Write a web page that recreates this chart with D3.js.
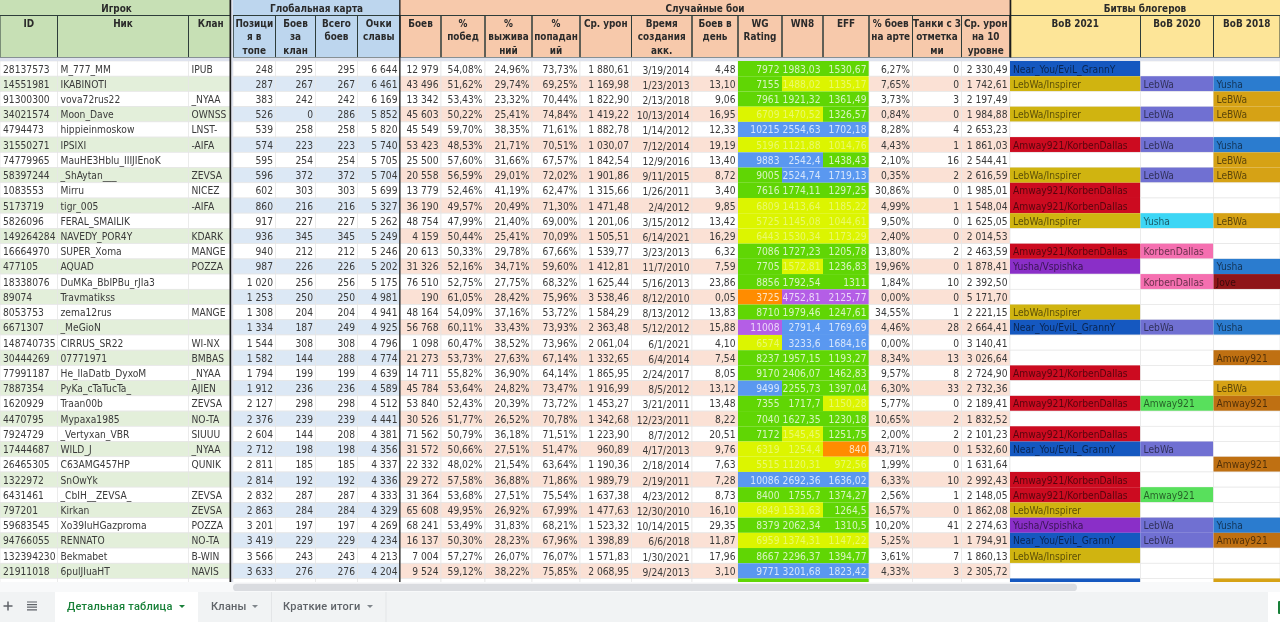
<!DOCTYPE html>
<html>
<head>
<meta charset="utf-8">
<script src="https://cdn.jsdelivr.net/npm/d3@7"></script>
<style>
  html, body { margin: 0; padding: 0; background: #fff; overflow: hidden; }
  svg { display: block; filter: blur(0.4px); font-family: "DejaVu Sans", sans-serif; font-stretch: condensed; }
</style>
</head>
<body>
<svg id="sheet" width="1280" height="622"></svg>
<script>
// player columns, last row is the one cut off by the scrollbar
const ids = [28137573,14551981,91300300,34021574,4794473,31550271,74779965,58397244,1083553,5173719,5826096,149264284,16664970,477105,18338076,89074,8053753,6671307,148740735,30444269,77991187,7887354,1620929,4470795,7924729,17444687,26465305,1322972,6431461,797201,59683545,94766055,132394230,21911018,""];
const nicks = ["M_777_MM","IKABINOTI","vova72rus22","Moon_Dave","hippieinmoskow","IPSIXI","MauHE3Hblu_IIIJIEnoK","_ShAytan___","Mirru","tigr_005","FERAL_SMAILIK","NAVEDY_POR4Y","SUPER_Xoma","AQUAD","DuMKa_BbIPBu_rJIa3","Travmatikss","zema12rus","_MeGioN","CIRRUS_SR22","07771971","He_IlaDatb_DyxoM","PyKa_cTaTucTa_","Traan00b","Mypaxa1985","_Vertyxan_VBR","WILD_J","C63AMG457HP","SnOwYk","_CbIH__ZEVSA_","Kirkan","Xo39IuHGazproma","RENNATO","Bekmabet","6pulJIuaHT",""];
const clans = ["IPUB","","_NYAA","OWNSS","LNST-","-AIFA","","ZEVSA","NICEZ","-AIFA","","KDARK","MANGE","POZZA","","","MANGE","","WI-NX","BMBAS","_NYAA","AJIEN","ZEVSA","NO-TA","SIUUU","_NYAA","QUNIK","","ZEVSA","ZEVSA","POZZA","NO-TA","B-WIN","NAVIS",""];

// global map
const positions = [248,287,383,526,539,574,595,596,602,860,917,936,940,987,1020,1253,1308,1334,1544,1582,1794,1912,2127,2376,2604,2712,2811,2814,2832,2863,3201,3419,3566,3633,null];
const clanBattles = [295,267,242,0,258,223,254,372,303,216,227,345,212,226,256,250,204,187,308,144,199,236,298,239,144,198,185,192,287,284,197,229,243,276,null];
const totalBattles = [295,267,242,286,258,223,254,372,303,216,227,345,212,226,256,250,204,249,308,288,199,236,298,239,208,198,185,192,287,284,197,229,243,276,null];
const famePoints = [6644,6461,6169,5852,5820,5740,5705,5704,5699,5327,5262,5249,5246,5202,5175,4981,4941,4925,4796,4774,4639,4589,4512,4441,4381,4356,4337,4336,4333,4329,4269,4234,4213,4204,null];

// random battles
const battles = [12979,43496,13342,45603,45549,53423,25500,20558,13779,36190,48754,4159,20613,31326,76510,190,48164,56768,1098,21273,14711,45784,53840,30526,71562,31572,22332,29272,31364,65608,68241,16137,7004,9524,null];
const winRate = [54.08,51.62,53.43,50.22,59.70,48.53,57.60,56.59,52.46,49.57,47.99,50.44,50.33,52.16,52.75,61.05,54.09,60.11,60.47,53.73,55.82,53.64,52.43,51.77,50.79,50.66,48.02,57.58,53.68,49.95,53.49,50.30,57.27,59.12,null];
const survival = [24.96,29.74,23.32,25.41,38.35,21.71,31.66,29.01,41.19,20.49,21.40,25.41,29.78,34.71,27.75,28.42,37.16,33.43,38.52,27.63,36.90,24.82,20.39,26.52,36.18,27.51,21.54,36.88,27.51,26.92,31.83,28.23,26.07,38.22,null];
const hitRate = [73.73,69.25,70.44,74.84,71.61,70.51,67.57,72.02,62.47,71.30,69.00,70.09,67.66,59.60,68.32,75.96,53.72,73.93,73.96,67.14,64.14,73.47,73.72,70.78,71.51,51.47,63.64,71.86,75.54,67.99,68.21,67.96,76.07,75.85,null];
const avgDamage = [1880.61,1169.98,1822.90,1419.22,1882.78,1030.07,1842.54,1901.86,1315.66,1471.48,1201.06,1505.51,1539.77,1412.81,1625.44,3538.46,1584.29,2363.48,2061.04,1332.65,1865.95,1916.99,1453.27,1342.68,1223.90,960.89,1190.36,1989.79,1637.38,1477.63,1523.32,1398.89,1571.83,2068.95,null];
const created = ["3/19/2014","1/23/2013","2/13/2018","10/13/2014","1/14/2012","7/12/2014","12/9/2016","9/11/2015","1/26/2011","2/4/2012","3/15/2012","6/14/2021","3/23/2013","11/7/2010","5/16/2013","8/12/2010","8/13/2012","5/12/2012","6/1/2021","6/4/2014","2/24/2017","8/5/2012","3/21/2011","12/23/2011","8/7/2012","4/17/2013","2/18/2014","2/19/2011","4/23/2012","12/30/2010","10/14/2015","6/6/2018","1/30/2021","9/24/2013",""];
const perDay = [4.48,13.10,9.06,16.95,12.33,19.19,13.40,8.72,3.40,9.85,13.42,16.29,6.32,7.59,23.86,0.05,13.83,15.88,4.10,7.54,8.05,13.12,13.48,8.22,20.51,9.76,7.63,7.28,8.73,16.10,29.35,11.87,17.96,3.10,null];
// the cut-off row only shows its cell colour, its numbers are a guess
const wgRating = [7972,7155,7961,6709,10215,5196,9883,9005,7616,6809,5725,6443,7086,7705,8856,3725,8710,11008,6574,8237,9170,9499,7355,7040,7172,6319,5515,10086,8400,6849,8379,6959,8667,9771,8000];
const wn8 = [1983.03,1488.02,1921.32,1470.52,2554.63,1121.88,2542.4,2524.74,1774.11,1413.64,1145.08,1530.34,1727.23,1572.81,1792.54,4752.81,1979.46,2791.4,3233.6,1957.15,2406.07,2255.73,1717.7,1627.35,1545.45,1254.4,1120.31,2692.36,1755.7,1531.63,2062.34,1374.31,2296.37,3201.68,1800];
const eff = [1530.67,1135.17,1361.49,1326.57,1702.18,1014.76,1438.43,1719.13,1297.25,1185.22,1044.61,1173.29,1205.78,1236.83,1311,2125.77,1247.61,1769.69,1684.16,1193.27,1462.83,1397.04,1150.28,1230.18,1251.75,840,972.56,1636.02,1374.27,1264.5,1310.5,1147.22,1394.77,1823.42,1300];
const artyShare = [6.27,7.65,3.73,0.84,8.28,4.43,2.10,0.35,30.86,4.99,9.50,2.40,13.80,19.96,1.84,0.00,34.55,4.46,0.00,8.34,9.57,6.30,5.77,10.65,2.00,43.71,1.99,6.33,2.56,16.57,10.20,5.25,3.61,4.33,null];
const threeMarks = [0,0,3,0,4,1,16,2,0,1,0,0,2,0,10,0,1,28,0,13,8,33,0,2,2,0,0,10,1,0,41,1,7,3,null];
const damageTier10 = [2330.49,1742.61,2197.49,1984.88,2653.23,1861.03,2544.41,2616.59,1985.01,1548.04,1625.05,2014.53,2463.59,1878.41,2392.50,5171.70,2221.15,2664.41,3140.41,3026.64,2724.90,2732.36,2189.41,1832.52,2101.23,1532.60,1631.64,2992.43,2148.05,1862.08,2274.63,1794.91,1860.13,2305.72,null];

// blogger battles
const near = "Near_You/EviL_GrannY", leb = "LebWa/Inspirer", amw = "Amway921/KorbenDallas", yv = "Yusha/Vspishka";
const bob2021 = [near,leb,"",leb,"",amw,"",leb,amw,amw,leb,"",amw,yv,"","",leb,near,"","",amw,"",amw,"",amw,near,"",amw,amw,leb,yv,near,leb,"",near];
const bob2020 = ["","LebWa","","LebWa","","LebWa","","LebWa","","","Yusha","","KorbenDallas","","KorbenDallas","","","LebWa","","","","","Amway921","","","LebWa","","","Amway921","","LebWa","LebWa","","",""];
const bob2018 = ["","Yusha","LeBWa","LeBWa","","Yusha","LeBWa","LeBWa","","","LeBWa","","","Yusha","Jove","","","Yusha","","Amway921","","LeBWa","Amway921","","","","Amway921","","","","Yusha","Amway921","","","LeBWa"];

const columnKeys = ["id","nick","clan","pos","clanB","totalB","fame","battles","win","surv","hit","dmg","created","perDay","wg","wn8","eff","arty","marks","dmg10","b21","b20","b18","end"];
const columnEdges = [0,57.5,188.5,233,275.5,315.5,357.5,400,441,485,532,580,631.5,692,738,782,823,869,912.5,961.5,1010,1140.5,1213.5,1280];
const groupTitles = ["Игрок","Глобальная карта","Случайные бои","Битвы блогеров"];
const groupSpans = [["id","pos"],["pos","battles"],["battles","b21"],["b21","end"]];
const groupFills = ["#c7e0b5","#bdd6ee","#f7c9ab","#fde598"];
const stripeFills = ["#e3efda","#dce8f5","#fbe1d5","#fff"];
const headerLines = {
  id:["ID"], nick:["Ник"], clan:["Клан"], pos:["Позици","я в","топе"], clanB:["Боев","за","клан"],
  totalB:["Всего","боев"], fame:["Очки","славы"], battles:["Боев"], win:["%","побед"], surv:["%","выжива","ний"],
  hit:["%","попадан","ий"], dmg:["Ср. урон"], created:["Время","создания","акк."], perDay:["Боев в","день"],
  wg:["WG","Rating"], wn8:["WN8"], eff:["EFF"], arty:["% боев","на арте"], marks:["Танки с 3","отметка","ми"],
  dmg10:["Ср. урон","на 10","уровне"], b21:["BoB 2021"], b20:["BoB 2020"], b18:["BoB 2018"]
};

const ratingColors = ["#ff8c00","#dcf500","#60d604","#5a98f0","#b45ee6"];
const wgColor = d3.scaleThreshold([5000,7000,9400,11000], ratingColors);
const wn8Color = d3.scaleThreshold([1000,1600,2500,4000], ratingColors);
const effColor = d3.scaleThreshold([900,1190,1600,2000], ratingColors);
const bobColor = d3.scaleOrdinal(
  ["2021"+near,"2021"+leb,"2021"+amw,"2021"+yv,"2020LebWa","2020Yusha","2020KorbenDallas","2020Amway921","2018Yusha","2018LeBWa","2018Amway921","2018Jove"],
  ["#1558c0","#d0b410","#cc0b20","#8a2fc8","#7070d2","#3dd6f5","#f56fb0","#58e05c","#2b7ccf","#d6a215","#bf7012","#8f1518"]);

const ruLocale = d3.formatLocale({decimal:",", thousands:" ", grouping:[3], currency:["",""]});
const fmtInt = ruLocale.format(",d");
const fmtDec = ruLocale.format(",.2f");
const fmtPlain = ruLocale.format(".2f");
const orBlank = f => v => v === null ? "" : f(v);
const fmtPct = orBlank(v => fmtPlain(v) + "%");
const fmtRating = v => String(v).replace(".", ",");

const x = d3.scaleOrdinal(columnKeys, columnEdges);
const y = d3.scaleBand(d3.range(ids.length), [61, 61 + 15.22 * ids.length]);
const colEnd = k => x(columnKeys[columnKeys.indexOf(k) + 1]);

// group: which stripe colour the column takes, rating: coloured cell
const columns = [
  {key:"id", values:ids, f:String, group:0},
  {key:"nick", values:nicks, f:String, group:0},
  {key:"clan", values:clans, f:String, group:0},
  {key:"pos", values:positions, f:orBlank(fmtInt), group:1, right:true},
  {key:"clanB", values:clanBattles, f:orBlank(fmtInt), group:1, right:true},
  {key:"totalB", values:totalBattles, f:orBlank(fmtInt), group:1, right:true},
  {key:"fame", values:famePoints, f:orBlank(fmtInt), group:1, right:true},
  {key:"battles", values:battles, f:orBlank(fmtInt), group:2, right:true},
  {key:"win", values:winRate, f:fmtPct, group:2, right:true},
  {key:"surv", values:survival, f:fmtPct, group:2, right:true},
  {key:"hit", values:hitRate, f:fmtPct, group:2, right:true},
  {key:"dmg", values:avgDamage, f:orBlank(fmtDec), group:2, right:true},
  {key:"created", values:created, f:String, group:2, right:true, dy:1},
  {key:"perDay", values:perDay, f:orBlank(fmtPlain), group:2, right:true},
  {key:"wg", values:wgRating, f:fmtRating, color:wgColor, right:true},
  {key:"wn8", values:wn8, f:fmtRating, color:wn8Color, right:true},
  {key:"eff", values:eff, f:fmtRating, color:effColor, right:true},
  {key:"arty", values:artyShare, f:fmtPct, group:2, right:true},
  {key:"marks", values:threeMarks, f:orBlank(fmtInt), group:2, right:true},
  {key:"dmg10", values:damageTier10, f:orBlank(fmtDec), group:2, right:true},
  {key:"b21", values:bob2021, f:String, group:3, bob:"2021"},
  {key:"b20", values:bob2020, f:String, group:3, bob:"2020"},
  {key:"b18", values:bob2018, f:String, group:3, bob:"2018"}
];

const svg = d3.select("#sheet");
svg.append("defs").append("clipPath").attr("id", "rowsClip")
  .append("rect").attr("x", 0).attr("y", 58).attr("width", 1280).attr("height", 524);

// body cells
const body = svg.append("g").attr("clip-path", "url(#rowsClip)");
const cells = columns.flatMap(c => c.values.map((v, i) => ({c, v, i})));

function cellFill(d) {
  if (d.c.color) return d.c.color(d.v);
  if (d.c.bob && d.v) return bobColor(d.c.bob + d.v);
  return d.i % 2 ? stripeFills[d.c.group] : "#fff";
}

body.selectAll("rect.cell").data(cells).join("rect")
  .attr("class", "cell")
  .attr("x", d => x(d.c.key))
  .attr("y", d => y(d.i))
  .attr("width", d => colEnd(d.c.key) - x(d.c.key))
  .attr("height", y.bandwidth())
  .attr("fill", cellFill)
  .attr("stroke", d => d.c.color || (d.c.bob && d.v) ? "none" : "#e6e6e6")
  .attr("stroke-width", 0.7);

body.selectAll("text.cell").data(cells.filter(d => d.i < 34)).join("text")
  .attr("class", "cell")
  .attr("x", d => d.c.right ? colEnd(d.c.key) - 2.5 : x(d.c.key) + 3)
  .attr("y", d => y(d.i) + y.bandwidth() / 2 + 0.4 + (d.c.dy || 0))
  .attr("dy", "0.35em")
  .attr("text-anchor", d => d.c.right ? "end" : "start")
  .attr("font-size", 10.2)
  .attr("fill", d => d.c.color ? "#fff" : d.c.bob && d.v ? "#000" : "#3a3a3a")
  .attr("fill-opacity", d => d.c.color ? (d.c.color(d.v) === ratingColors[1] ? 0.42 : 0.75) : d.c.bob && d.v ? 0.58 : 1)
  .text(d => d.c.f(d.v));

// header groups
const head = svg.append("g");
head.selectAll("rect.group").data(groupTitles).join("rect")
  .attr("class", "group")
  .attr("x", (d, i) => x(groupSpans[i][0]))
  .attr("y", 0)
  .attr("width", (d, i) => x(groupSpans[i][1]) - x(groupSpans[i][0]))
  .attr("height", 57.5)
  .attr("fill", (d, i) => groupFills[i]);

head.selectAll("text.group").data(groupTitles).join("text")
  .attr("class", "group")
  .attr("x", (d, i) => (x(groupSpans[i][0]) + x(groupSpans[i][1])) / 2)
  .attr("y", 9)
  .attr("dy", "0.35em")
  .attr("text-anchor", "middle")
  .attr("font-size", 9.9)
  .attr("font-weight", 700)
  .attr("fill", "#2a2a2a")
  .text(d => d);

// sub header cells
const subHeads = head.selectAll("g.sub").data(columns).join("g").attr("class", "sub");
subHeads.append("rect")
  .attr("x", d => x(d.key))
  .attr("y", 15.5)
  .attr("width", d => colEnd(d.key) - x(d.key))
  .attr("height", 42)
  .attr("fill", "none")
  .attr("stroke", "#2e3d3a")
  .attr("stroke-width", 1);
subHeads.selectAll("text").data(d => headerLines[d.key].map((t, i) => ({t, i, key:d.key}))).join("text")
  .attr("x", d => (x(d.key) + colEnd(d.key)) / 2)
  .attr("y", d => 23.3 + d.i * 13.7)
  .attr("dy", "0.35em")
  .attr("text-anchor", "middle")
  .attr("font-size", 9.9)
  .attr("font-weight", 700)
  .attr("fill", "#2a2a2a")
  .text(d => d.t);

// frozen pane bars and the thick section rules
svg.append("rect").attr("x", 0).attr("y", 57.5).attr("width", 1280).attr("height", 3.5).attr("fill", "#dfe3ee");
svg.append("rect").attr("x", 231).attr("y", 0).attr("width", 2).attr("height", 582).attr("fill", "#dfe3ee");
[229.5, 399.2, 1009.6].forEach((rx, i) => {
  svg.append("rect").attr("x", rx).attr("y", 0).attr("width", i === 1 ? 1.3 : 1.7)
    .attr("height", i === 2 ? 57.5 : 582).attr("fill", "#1c1c1c");
});

// scrollbar strip
svg.append("rect").attr("x", 0).attr("y", 582).attr("width", 1280).attr("height", 10).attr("fill", "#f8f9fa");
svg.append("rect").attr("x", 233).attr("y", 583.7).attr("width", 844).attr("height", 7.3).attr("rx", 3.6).attr("fill", "#dadce0");

// bottom tab bar
const tabs = svg.append("g");
tabs.append("rect").attr("x", 0).attr("y", 592).attr("width", 1280).attr("height", 30).attr("fill", "#f1f3f4");
tabs.append("rect").attr("x", 55).attr("y", 592).attr("width", 143).attr("height", 30).attr("fill", "#fff");
tabs.append("rect").attr("x", 1268).attr("y", 592).attr("width", 12).attr("height", 30).attr("fill", "#fff");
tabs.append("rect").attr("x", 1278).attr("y", 601).attr("width", 3).attr("height", 13).attr("rx", 1).attr("fill", "#188038");
[271.5, 386].forEach(sx => {
  tabs.append("line").attr("x1", sx).attr("x2", sx).attr("y1", 592).attr("y2", 622).attr("stroke", "#e3e5e7");
});

const tabTitles = ["Детальная таблица","Кланы","Краткие итоги"];
const tabArrowX = [182,255,370];
const tabTextX = [67,211,283];
tabs.selectAll("text.tab").data(tabTitles).join("text")
  .attr("class", "tab")
  .attr("x", (d, i) => tabTextX[i])
  .attr("y", 606.5)
  .attr("dy", "0.35em")
  .attr("font-size", 11)
  .attr("font-family", "Roboto, sans-serif")
  .attr("font-weight", 500)
  .attr("font-stretch", "normal")
  .attr("letter-spacing", 0.25)
  .attr("fill", (d, i) => i ? "#5f6368" : "#188038")
  .text(d => d);
tabs.selectAll("path.arrow").data(tabArrowX).join("path")
  .attr("class", "arrow")
  .attr("d", d => `M${d - 3},605 h6 l-3,3 z`)
  .attr("fill", (d, i) => i ? "#80868b" : "#188038");

tabs.append("path").attr("d", "M8,601.5 v9 M3.5,606 h9").attr("stroke", "#5f6368").attr("stroke-width", 1.5);
tabs.append("path").attr("d", "M27,602 h10 M27,604.6 h10 M27,607.2 h10 M27,609.8 h10").attr("stroke", "#5f6368").attr("stroke-width", 1.2);
</script>
</body>
</html>
